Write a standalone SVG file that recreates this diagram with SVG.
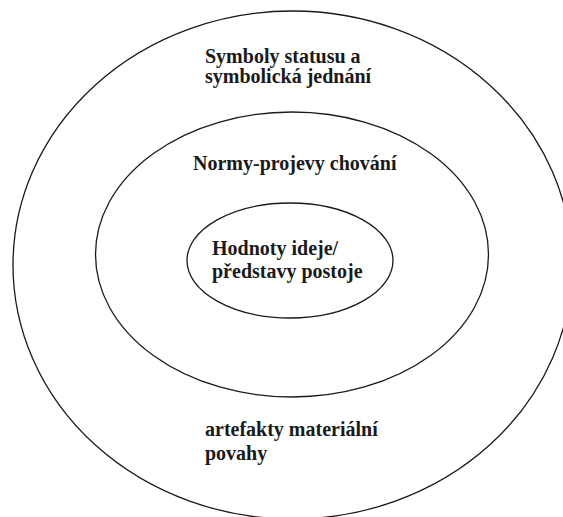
<svg xmlns="http://www.w3.org/2000/svg" width="563" height="517" viewBox="0 0 563 517">
  <style>
    .ring { fill: none; stroke: #1a1a1a; stroke-width: 1.3; }
    .label { font-family: "Liberation Serif", "Times New Roman", serif; font-size: 20px; font-weight: bold; fill: #1a1a1a; }
  </style>
  <rect x="0" y="0" width="563" height="517" fill="#ffffff"/>

  <!-- outer layer: status symbols and material artefacts -->
  <g id="outer">
    <ellipse class="ring" cx="292.5" cy="265" rx="279.5" ry="254"/>
    <text class="label" x="205" y="63">Symboly statusu a</text>
    <text class="label" x="205" y="83">symbolická jednání</text>
    <text class="label" x="205" y="436">artefakty materiální</text>
    <text class="label" x="205" y="460">povahy</text>
  </g>

  <!-- middle layer: norms -->
  <g id="middle">
    <ellipse class="ring" cx="292" cy="254.5" rx="196.5" ry="142.5"/>
    <text class="label" x="193" y="170">Normy-projevy chování</text>
  </g>

  <!-- core: values -->
  <g id="core">
    <ellipse class="ring" cx="290" cy="260.5" rx="103" ry="57.5"/>
    <text class="label" x="212" y="255">Hodnoty ideje/</text>
    <text class="label" x="212" y="278">představy postoje</text>
  </g>
</svg>
